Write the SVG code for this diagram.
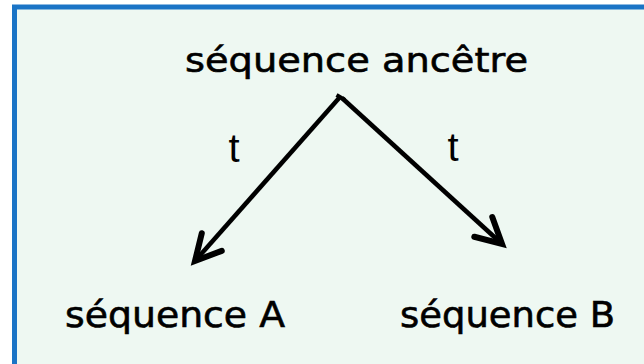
<svg xmlns="http://www.w3.org/2000/svg" width="644" height="364" viewBox="0 0 644 364">
  <style>
    .lbl { font-family: "DejaVu Sans", "Noto Sans", sans-serif; fill: #000; stroke: #000; stroke-width: 0.6; }
    .t { font-family: "Liberation Sans", Arial, sans-serif; font-size: 40px; fill: #000; text-anchor: middle; }
    .edge { stroke: #000; stroke-width: 4.5; fill: none; marker-end: url(#arrow); }
  </style>
  <defs>
    <marker id="arrow" markerUnits="userSpaceOnUse" markerWidth="40" markerHeight="40" refX="0" refY="0" viewBox="-25 -15 30 30" orient="auto" overflow="visible">
      <path d="M -19 -10 L 0 0 L -19 10" fill="none" stroke="#000" stroke-width="4.5" stroke-linejoin="miter" stroke-linecap="round"/>
    </marker>
  </defs>
  <rect x="0" y="0" width="644" height="364" fill="#ffffff"/>
  <rect id="frame" x="14.5" y="7" width="700" height="400" fill="#eef8f2" stroke="#1a74c6" stroke-width="5"/>
  <g id="connectors">
    <line class="edge" x1="340" y1="97" x2="195" y2="261"/>
    <line class="edge" x1="342" y1="98" x2="502" y2="244"/>
    <line x1="336.5" y1="95" x2="345" y2="100" stroke="#000" stroke-width="4"/>
    <text class="t" x="234" y="162">t</text>
    <text class="t" x="453" y="161">t</text>
  </g>
  <g id="node-ancestor">
    <text class="lbl" x="185" y="72" font-size="34" textLength="343" lengthAdjust="spacingAndGlyphs">séquence ancêtre</text>
  </g>
  <g id="node-A">
    <text class="lbl" x="65" y="327" font-size="36" textLength="220" lengthAdjust="spacingAndGlyphs">séquence A</text>
  </g>
  <g id="node-B">
    <text class="lbl" x="400" y="327" font-size="36" textLength="215" lengthAdjust="spacingAndGlyphs">séquence B</text>
  </g>
</svg>
